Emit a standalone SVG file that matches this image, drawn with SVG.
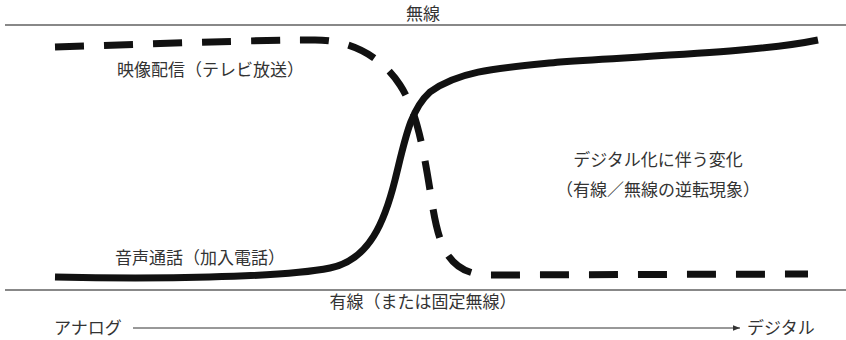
<svg xmlns="http://www.w3.org/2000/svg" width="846" height="340" viewBox="0 0 846 340">
<defs>
<style>
.t{font-family:"Noto Sans CJK JP","Noto Sans",sans-serif;font-size:17px;fill:#333;}
.axis{stroke:#888;stroke-width:2;fill:none;}
.solid{stroke:#111;stroke-width:7;fill:none;stroke-linecap:butt;}
.dash{stroke:#111;stroke-width:7;fill:none;stroke-dasharray:29 20;}
</style>
<marker id="ah" viewBox="0 0 10 10" refX="10" refY="5" markerWidth="7" markerHeight="7" markerUnits="userSpaceOnUse" orient="auto">
<path d="M0,1 L10,5 L0,9 Z" fill="#333"/>
</marker>
</defs>
<rect width="846" height="340" fill="#fff"/>
<g id="frame">
<line class="axis" x1="5" y1="25" x2="846" y2="25"/>
<line class="axis" x1="5" y1="290" x2="846" y2="290"/>
</g>
<g id="connectors">
<path id="video" class="dash" d="M55,47 C150,44 250,40 315,40 C350,40 380,55 400,85 C415,108 422,140 430,190 C437,235 442,272 485,275 L808,274"/>
<path id="voice" class="solid" d="M55,277 C150,279 280,278 330,268 C370,260 385,220 395,180 C405,140 410,110 430,92 C460,70 500,68 560,62 C660,55 760,52 818,40"/>
<line id="timeline" x1="133" y1="328" x2="740" y2="328" stroke="#333" stroke-width="1" marker-end="url(#ah)"/>
</g>
<g id="label-wireless"><text class="t" x="423" y="20" text-anchor="middle" font-size="15">無線</text></g>
<g id="label-video"><text class="t" x="117" y="76">映像配信（テレビ放送）</text></g>
<g id="label-voice"><text class="t" x="115" y="264">音声通話（加入電話）</text></g>
<g id="label-change"><text class="t" x="658" y="166" text-anchor="middle">デジタル化に伴う変化</text>
<text class="t" x="658" y="196" text-anchor="middle">（有線／無線の逆転現象）</text></g>
<g id="label-wired"><text class="t" x="423" y="308" text-anchor="middle">有線（または固定無線）</text></g>
<g id="label-analog"><text class="t" x="54" y="334">アナログ</text></g>
<g id="label-digital"><text class="t" x="747" y="334">デジタル</text></g>
</svg>
